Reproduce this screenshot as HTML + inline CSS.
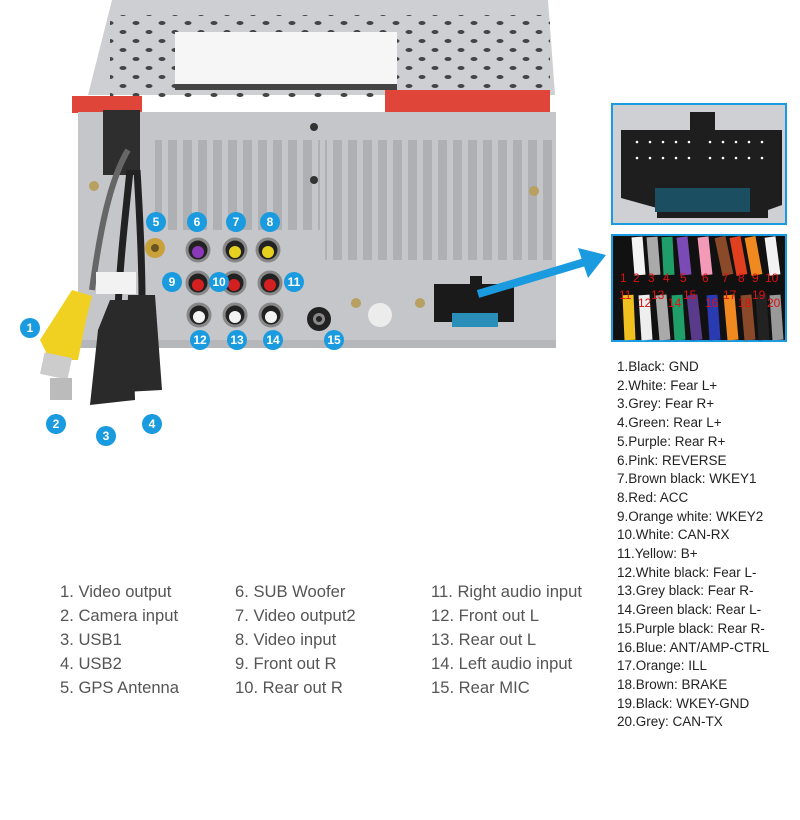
<!DOCTYPE html>
<html><head><meta charset="utf-8"><style>
html,body{margin:0;padding:0;background:#fff;width:800px;height:820px;overflow:hidden;position:relative;font-family:"Liberation Sans",Arial,sans-serif}
svg{position:absolute;left:0;top:0}
.col{position:absolute;top:580px;font-size:16.6px;color:#555;line-height:24px;white-space:nowrap}
.rl{position:absolute;left:617px;top:358px;font-size:13.5px;color:#222;line-height:18.7px;white-space:nowrap}
</style></head><body>
<svg width="800" height="820" viewBox="0 0 800 820">
<defs>
<pattern id="holes" width="26" height="18" patternUnits="userSpaceOnUse">
<ellipse cx="6" cy="5" rx="3.5" ry="2" fill="#444"/><ellipse cx="19" cy="14" rx="3.5" ry="2" fill="#444"/>
</pattern>
<pattern id="slots" width="15" height="300" patternUnits="userSpaceOnUse">
<rect x="3" y="0" width="9" height="300" rx="3" fill="#aeb0b4"/>
</pattern>
</defs>
<!-- top panel -->
<polygon points="112,0 548,0 555,95 88,95" fill="#cdcfd3"/>
<rect x="110" y="15" width="440" height="82" fill="url(#holes)"/>
<rect x="160" y="2" width="330" height="12" fill="#cdcfd3"/>
<rect x="175" y="32" width="222" height="58" fill="#f6f6f6"/>
<rect x="175" y="84" width="222" height="6" fill="#444"/>
<rect x="385" y="90" width="165" height="25" fill="#e0453a"/>
<rect x="72" y="96" width="70" height="17" fill="#e0453a"/>
<!-- back face -->
<rect x="78" y="112" width="478" height="236" fill="#c4c6ca"/>
<rect x="155" y="140" width="70" height="90" fill="url(#slots)"/>
<rect x="175" y="140" width="145" height="90" fill="url(#slots)"/>
<rect x="325" y="140" width="230" height="120" fill="url(#slots)"/>
<rect x="330" y="260" width="115" height="30" fill="#c4c6ca"/>
<rect x="78" y="340" width="478" height="8" fill="#b5b7bb"/>
<!-- screws -->
<circle cx="94" cy="186" r="5" fill="#b8a060"/><circle cx="534" cy="191" r="5" fill="#b8a060"/>
<circle cx="314" cy="127" r="4" fill="#333"/><circle cx="314" cy="180" r="4" fill="#333"/>
<circle cx="420" cy="303" r="5" fill="#b8a060"/><circle cx="356" cy="303" r="5" fill="#b8a060"/>
<circle cx="380" cy="315" r="12" fill="#ececec"/>
<!-- GPS -->
<circle cx="155" cy="248" r="10" fill="#c9a03a"/><circle cx="155" cy="248" r="4" fill="#6a5520"/>
<!-- RCA jacks -->
<g stroke="#888" stroke-width="3">
<circle cx="198" cy="250" r="11" fill="#222"/><circle cx="235" cy="250" r="11" fill="#222"/><circle cx="268" cy="250" r="11" fill="#222"/>
<circle cx="198" cy="283" r="11" fill="#222"/><circle cx="234" cy="283" r="11" fill="#222"/><circle cx="270" cy="283" r="11" fill="#222"/>
<circle cx="199" cy="315" r="11" fill="#222"/><circle cx="235" cy="315" r="11" fill="#222"/><circle cx="271" cy="315" r="11" fill="#222"/>
</g>
<g>
<circle cx="198" cy="252" r="6" fill="#8a3ab8"/><circle cx="235" cy="252" r="6" fill="#e6d020"/><circle cx="268" cy="252" r="6" fill="#e6d020"/>
<circle cx="198" cy="285" r="6" fill="#d42020"/><circle cx="234" cy="285" r="6" fill="#d42020"/><circle cx="270" cy="285" r="6" fill="#d42020"/>
<circle cx="199" cy="317" r="6" fill="#f4f4f4"/><circle cx="235" cy="317" r="6" fill="#f4f4f4"/><circle cx="271" cy="317" r="6" fill="#f4f4f4"/>
</g>
<circle cx="319" cy="319" r="12" fill="#222"/><circle cx="319" cy="319" r="6" fill="#888"/><circle cx="319" cy="319" r="3" fill="#222"/>
<!-- connector -->
<rect x="434" y="284" width="80" height="38" fill="#1a1a1a"/>
<rect x="470" y="276" width="12" height="10" fill="#1a1a1a"/>
<rect x="452" y="313" width="46" height="14" fill="#2a8fb8"/>
<!-- cables -->
<path d="M103 110 L140 110 L140 175 L103 175 Z" fill="#2e2e2e"/>
<path d="M128 150 C110 180 100 230 92 290" stroke="#666" stroke-width="6" fill="none"/>
<path d="M130 170 C125 220 120 260 118 310" stroke="#222" stroke-width="7" fill="none"/>
<path d="M137 170 C140 220 142 260 142 300" stroke="#222" stroke-width="7" fill="none"/>
<rect x="96" y="272" width="40" height="22" fill="#f2f2f2"/>
<path d="M72 290 L92 296 L86 320 L78 360 L50 360 L40 340 Z" fill="#f0d020"/>
<rect x="42" y="355" width="28" height="22" fill="#ccc" transform="rotate(12 56 366)"/>
<rect x="50" y="378" width="22" height="22" fill="#bbb"/>
<path d="M110 300 L132 300 L135 400 L90 405 L98 330 Z" fill="#2a2a2a"/>
<path d="M128 295 L155 295 L162 390 L125 392 Z" fill="#2a2a2a"/>
<!-- arrow -->
<line x1="478" y1="294" x2="585" y2="262" stroke="#1a9be0" stroke-width="8"/>
<polygon points="606,255 578,248 588,278" fill="#1a9be0"/>
<!-- inset top -->
<rect x="612" y="104" width="174" height="120" fill="#cfd0d3" stroke="#1a9be0" stroke-width="2"/>
<path d="M621 130 L690 130 L690 112 L715 112 L715 130 L782 130 L782 205 L768 210 L768 218 L657 218 L657 208 L621 198 Z" fill="#1e1e1e"/>
<rect x="655" y="188" width="95" height="24" fill="#1b4e60"/>
<g fill="#fff"><circle cx="637" cy="142" r="1.3"/><circle cx="650" cy="142" r="1.3"/><circle cx="663" cy="142" r="1.3"/><circle cx="676" cy="142" r="1.3"/><circle cx="689" cy="142" r="1.3"/><circle cx="710" cy="142" r="1.3"/><circle cx="723" cy="142" r="1.3"/><circle cx="736" cy="142" r="1.3"/><circle cx="749" cy="142" r="1.3"/><circle cx="762" cy="142" r="1.3"/>
<circle cx="637" cy="158" r="1.3"/><circle cx="650" cy="158" r="1.3"/><circle cx="663" cy="158" r="1.3"/><circle cx="676" cy="158" r="1.3"/><circle cx="689" cy="158" r="1.3"/><circle cx="710" cy="158" r="1.3"/><circle cx="723" cy="158" r="1.3"/><circle cx="736" cy="158" r="1.3"/><circle cx="749" cy="158" r="1.3"/><circle cx="762" cy="158" r="1.3"/></g>
<!-- inset bottom -->
<rect x="612" y="235" width="174" height="106" fill="#111" stroke="#1a9be0" stroke-width="2"/>
<g stroke-width="11">
<line x1="625" y1="237" x2="626" y2="275" stroke="#111"/><line x1="637" y1="237" x2="640" y2="275" stroke="#f4f4f4"/>
<line x1="652" y1="237" x2="655" y2="275" stroke="#aaa"/><line x1="667" y1="237" x2="669" y2="275" stroke="#1f9e6a"/>
<line x1="682" y1="237" x2="686" y2="275" stroke="#7b4bb5"/><line x1="703" y1="237" x2="707" y2="275" stroke="#f29ab8"/>
<line x1="720" y1="237" x2="728" y2="275" stroke="#8a4a2a"/><line x1="735" y1="237" x2="742" y2="275" stroke="#e04020"/>
<line x1="750" y1="237" x2="757" y2="275" stroke="#f08a20"/><line x1="770" y1="237" x2="775" y2="275" stroke="#f2f2f2"/>
<line x1="628" y1="295" x2="630" y2="340" stroke="#f0c020"/><line x1="644" y1="295" x2="647" y2="340" stroke="#eee"/>
<line x1="661" y1="295" x2="665" y2="340" stroke="#aaa"/><line x1="677" y1="295" x2="680" y2="340" stroke="#1f9e6a"/>
<line x1="692" y1="295" x2="697" y2="340" stroke="#5a3a8a"/><line x1="712" y1="295" x2="715" y2="340" stroke="#2a3ab0"/>
<line x1="729" y1="295" x2="733" y2="340" stroke="#f08a20"/><line x1="746" y1="295" x2="750" y2="340" stroke="#8a4a2a"/>
<line x1="761" y1="295" x2="764" y2="340" stroke="#222"/><line x1="775" y1="295" x2="778" y2="340" stroke="#999"/>
</g>
<g fill="#e01010" font-size="12" font-family="Liberation Sans,sans-serif">
<text x="620" y="282">1</text><text x="633" y="282">2</text><text x="648" y="282">3</text><text x="663" y="282">4</text><text x="680" y="282">5</text><text x="702" y="282">6</text><text x="722" y="282">7</text><text x="738" y="282">8</text><text x="752" y="282">9</text><text x="765" y="282">10</text>
<text x="619" y="299">11</text><text x="638" y="307">12</text><text x="651" y="299">13</text><text x="668" y="307">14</text><text x="683" y="299">15</text><text x="705" y="307">16</text><text x="723" y="299">17</text><text x="738" y="307">18</text><text x="752" y="299">19</text><text x="767" y="307">20</text>
</g>
<!-- badges -->
<g fill="#1a9be0">
<circle cx="30" cy="328" r="10"/><circle cx="56" cy="424" r="10"/><circle cx="106" cy="436" r="10"/><circle cx="152" cy="424" r="10"/>
<circle cx="156" cy="222" r="10"/><circle cx="197" cy="222" r="10"/><circle cx="236" cy="222" r="10"/><circle cx="270" cy="222" r="10"/>
<circle cx="172" cy="282" r="10"/><circle cx="219" cy="282" r="10"/><circle cx="294" cy="282" r="10"/>
<circle cx="200" cy="340" r="10"/><circle cx="237" cy="340" r="10"/><circle cx="273" cy="340" r="10"/><circle cx="334" cy="340" r="10"/>
</g>
<g fill="#fff" font-size="12" font-weight="bold" font-family="Liberation Sans,sans-serif" text-anchor="middle">
<text x="30" y="332">1</text><text x="56" y="428">2</text><text x="106" y="440">3</text><text x="152" y="428">4</text>
<text x="156" y="226">5</text><text x="197" y="226">6</text><text x="236" y="226">7</text><text x="270" y="226">8</text>
<text x="172" y="286">9</text><text x="219" y="286">10</text><text x="294" y="286">11</text>
<text x="200" y="344">12</text><text x="237" y="344">13</text><text x="273" y="344">14</text><text x="334" y="344">15</text>
</g>
</svg>
<div class="col" style="left:60px">1. Video output<br>2. Camera input<br>3. USB1<br>4. USB2<br>5. GPS Antenna</div>
<div class="col" style="left:235px">6. SUB Woofer<br>7. Video output2<br>8. Video input<br>9. Front out R<br>10. Rear out R</div>
<div class="col" style="left:431px">11. Right audio input<br>12. Front out L<br>13. Rear out L<br>14. Left audio input<br>15. Rear MIC</div>
<div class="rl">1.Black: GND<br>2.White: Fear L+<br>3.Grey: Fear R+<br>4.Green: Rear L+<br>5.Purple: Rear R+<br>6.Pink: REVERSE<br>7.Brown black: WKEY1<br>8.Red: ACC<br>9.Orange white: WKEY2<br>10.White: CAN-RX<br>11.Yellow: B+<br>12.White black: Fear L-<br>13.Grey black: Fear R-<br>14.Green black: Rear L-<br>15.Purple black: Rear R-<br>16.Blue: ANT/AMP-CTRL<br>17.Orange: ILL<br>18.Brown: BRAKE<br>19.Black: WKEY-GND<br>20.Grey: CAN-TX</div>
</body></html>
